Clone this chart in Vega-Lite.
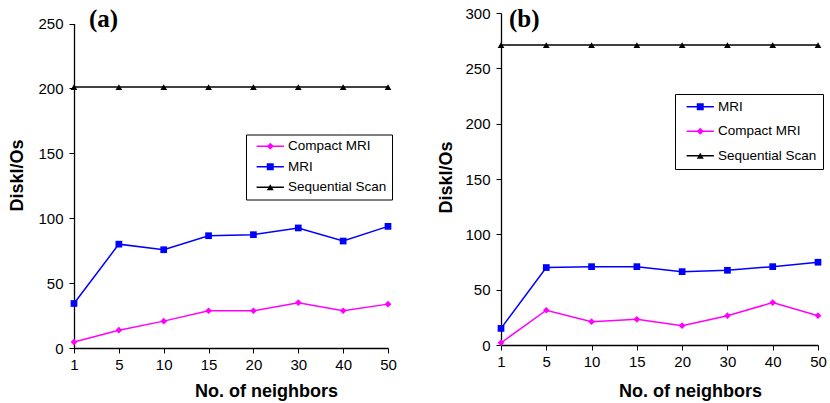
{
  "$schema": "https://vega.github.io/schema/vega-lite/v6.json",
  "background": "white",
  "padding": {"left": 8, "top": 6, "right": 4, "bottom": 4},
  "spacing": 40,
  "config": {
    "view": {"stroke": null},
    "axis": {
      "domainColor": "black", "tickColor": "black", "labelColor": "black", "titleColor": "black",
      "labelFont": "Liberation Sans", "titleFont": "Liberation Sans",
      "labelFontSize": 15, "titleFontSize": 18, "titleFontWeight": "bold",
      "grid": false, "tickSize": 5, "domainWidth": 1.3, "tickWidth": 1
    },
    "legend": {
      "labelFont": "Liberation Sans", "labelFontSize": 13.5, "labelColor": "black",
      "symbolSize": 49, "symbolStrokeWidth": 1.5, "labelLimit": 0, "title": null, "orient": "none"
    }
  },
  "resolve": {"scale": {"color": "independent", "fill": "independent", "shape": "independent", "y": "independent", "x": "independent"}, "legend": {"color": "independent", "fill": "independent", "shape": "independent"}},
  "datasets": {
    "a": [
      {"k": 1, "v": 4.6, "s": "Compact MRI"}, {"k": 5, "v": 13.7, "s": "Compact MRI"}, {"k": 10, "v": 20.7, "s": "Compact MRI"}, {"k": 15, "v": 28.7, "s": "Compact MRI"},
      {"k": 20, "v": 28.7, "s": "Compact MRI"}, {"k": 30, "v": 34.9, "s": "Compact MRI"}, {"k": 40, "v": 28.7, "s": "Compact MRI"}, {"k": 50, "v": 33.8, "s": "Compact MRI"},
      {"k": 1, "v": 34.3, "s": "MRI"}, {"k": 5, "v": 80, "s": "MRI"}, {"k": 10, "v": 75.7, "s": "MRI"}, {"k": 15, "v": 86.5, "s": "MRI"},
      {"k": 20, "v": 87.3, "s": "MRI"}, {"k": 30, "v": 92.5, "s": "MRI"}, {"k": 40, "v": 82.4, "s": "MRI"}, {"k": 50, "v": 93.7, "s": "MRI"},
      {"k": 1, "v": 201, "s": "Sequential Scan"}, {"k": 5, "v": 201, "s": "Sequential Scan"}, {"k": 10, "v": 201, "s": "Sequential Scan"}, {"k": 15, "v": 201, "s": "Sequential Scan"},
      {"k": 20, "v": 201, "s": "Sequential Scan"}, {"k": 30, "v": 201, "s": "Sequential Scan"}, {"k": 40, "v": 201, "s": "Sequential Scan"}, {"k": 50, "v": 201, "s": "Sequential Scan"}
    ],
    "b": [
      {"k": 1, "v": 15, "s": "MRI"}, {"k": 5, "v": 70, "s": "MRI"}, {"k": 10, "v": 70.8, "s": "MRI"}, {"k": 15, "v": 70.8, "s": "MRI"},
      {"k": 20, "v": 66.3, "s": "MRI"}, {"k": 30, "v": 67.5, "s": "MRI"}, {"k": 40, "v": 70.8, "s": "MRI"}, {"k": 50, "v": 74.8, "s": "MRI"},
      {"k": 1, "v": 2, "s": "Compact MRI"}, {"k": 5, "v": 31.4, "s": "Compact MRI"}, {"k": 10, "v": 21.1, "s": "Compact MRI"}, {"k": 15, "v": 23.2, "s": "Compact MRI"},
      {"k": 20, "v": 17.5, "s": "Compact MRI"}, {"k": 30, "v": 26.5, "s": "Compact MRI"}, {"k": 40, "v": 38.3, "s": "Compact MRI"}, {"k": 50, "v": 26.5, "s": "Compact MRI"},
      {"k": 1, "v": 271, "s": "Sequential Scan"}, {"k": 5, "v": 271, "s": "Sequential Scan"}, {"k": 10, "v": 271, "s": "Sequential Scan"}, {"k": 15, "v": 271, "s": "Sequential Scan"},
      {"k": 20, "v": 271, "s": "Sequential Scan"}, {"k": 30, "v": 271, "s": "Sequential Scan"}, {"k": 40, "v": 271, "s": "Sequential Scan"}, {"k": 50, "v": 271, "s": "Sequential Scan"}
    ]
  },
  "hconcat": [
    {
      "width": 314,
      "height": 335,
      "layer": [
        {
          "data": {"name": "a"},
          "mark": {"type": "line", "strokeWidth": 1.5},
          "encoding": {
            "x": {"field": "k", "type": "ordinal", "scale": {"type": "point", "padding": 0, "domain": [1, 5, 10, 15, 20, 30, 40, 50]},
                  "axis": {"labelAngle": 0, "title": "No. of neighbors", "labelPadding": 4, "titleX": 192, "titleY": 48, "titleBaseline": "alphabetic"}},
            "y": {"field": "v", "type": "quantitative", "scale": {"domain": [0, 250], "range": [335, 10.5], "nice": false},
                  "axis": {"values": [0, 50, 100, 150, 200, 250], "title": "DiskI/Os", "labelPadding": 6, "titleX": -57, "titleY": 162, "titleBaseline": "middle", "titleAlign": "center"}},
            "color": {"field": "s", "type": "nominal", "sort": ["Compact MRI", "MRI", "Sequential Scan"], "scale": {"range": ["#ff00ff", "#0000ff", "#000000"]},
                      "legend": {"legendX": 172, "legendY": 121.5, "padding": 5, "rowPadding": 5.5, "symbolOffset": 12.5, "labelOffset": 11,
                                 "symbolType": "M-3.9,0H3.9", "strokeColor": "black", "fillColor": null}}
          }
        },
        {
          "data": {"name": "a"},
          "mark": {"type": "point", "filled": true, "size": 45, "opacity": 1},
          "encoding": {
            "x": {"field": "k", "type": "ordinal", "scale": {"type": "point", "padding": 0, "domain": [1, 5, 10, 15, 20, 30, 40, 50]},
                  "axis": {"labelAngle": 0, "title": "No. of neighbors", "labelPadding": 4, "titleX": 192, "titleY": 48, "titleBaseline": "alphabetic"}},
            "y": {"field": "v", "type": "quantitative", "scale": {"domain": [0, 250], "range": [335, 10.5], "nice": false},
                  "axis": {"values": [0, 50, 100, 150, 200, 250], "title": "DiskI/Os", "labelPadding": 6, "titleX": -57, "titleY": 162, "titleBaseline": "middle", "titleAlign": "center"}},
            "fill": {"field": "s", "type": "nominal", "scale": {"domain": ["Compact MRI", "MRI", "Sequential Scan"], "range": ["#ff00ff", "#0000ff", "#000000"]},
                     "legend": {"legendX": 172, "legendY": 121.5, "padding": 5, "rowPadding": 5.5, "symbolOffset": 12.5, "labelOffset": 11, "labelOpacity": 0}},
            "shape": {"field": "s", "type": "nominal", "scale": {"domain": ["Compact MRI", "MRI", "Sequential Scan"], "range": ["diamond", "square", "triangle-up"]},
                      "legend": {"legendX": 172, "legendY": 121.5, "padding": 5, "rowPadding": 5.5, "symbolOffset": 12.5, "labelOffset": 11, "labelOpacity": 0}}
          }
        },
        {
          "data": {"values": [{"t": "(a)"}]},
          "mark": {"type": "text", "font": "Liberation Serif", "fontSize": 25, "fontWeight": "bold", "color": "black", "align": "left", "baseline": "alphabetic", "dx": 15, "dy": 3.5},
          "encoding": {
            "x": {"datum": 1, "type": "ordinal", "scale": {"type": "point", "padding": 0, "domain": [1, 5, 10, 15, 20, 30, 40, 50]},
                  "axis": {"labelAngle": 0, "title": "No. of neighbors", "labelPadding": 4, "titleX": 192, "titleY": 48, "titleBaseline": "alphabetic"}},
            "y": {"datum": 250, "type": "quantitative", "scale": {"domain": [0, 250], "range": [335, 10.5], "nice": false},
                  "axis": {"values": [0, 50, 100, 150, 200, 250], "title": "DiskI/Os", "labelPadding": 6, "titleX": -57, "titleY": 162, "titleBaseline": "middle", "titleAlign": "center"}},
            "text": {"field": "t"}
          }
        }
      ]
    },
    {
      "width": 317,
      "height": 332,
      "layer": [
        {
          "data": {"name": "b"},
          "mark": {"type": "line", "strokeWidth": 1.5},
          "encoding": {
            "x": {"field": "k", "type": "ordinal", "scale": {"type": "point", "padding": 0, "domain": [1, 5, 10, 15, 20, 30, 40, 50]},
                  "axis": {"labelAngle": 0, "title": "No. of neighbors", "labelPadding": 4, "titleX": 189, "titleY": 51, "titleBaseline": "alphabetic"}},
            "y": {"field": "v", "type": "quantitative", "scale": {"domain": [0, 300], "nice": false},
                  "axis": {"values": [0, 50, 100, 150, 200, 250, 300], "title": "DiskI/Os", "labelPadding": 6, "titleX": -55, "titleY": 164, "titleBaseline": "middle", "titleAlign": "center"}},
            "color": {"field": "s", "type": "nominal", "sort": ["MRI", "Compact MRI", "Sequential Scan"], "scale": {"range": ["#0000ff", "#ff00ff", "#000000"]},
                      "legend": {"legendX": 174, "legendY": 81, "padding": 6, "rowPadding": 9.5, "symbolOffset": 12.5, "labelOffset": 11,
                                 "symbolType": "M-3.9,0H3.9", "strokeColor": "black", "fillColor": null}}
          }
        },
        {
          "data": {"name": "b"},
          "mark": {"type": "point", "filled": true, "size": 45, "opacity": 1},
          "encoding": {
            "x": {"field": "k", "type": "ordinal", "scale": {"type": "point", "padding": 0, "domain": [1, 5, 10, 15, 20, 30, 40, 50]},
                  "axis": {"labelAngle": 0, "title": "No. of neighbors", "labelPadding": 4, "titleX": 189, "titleY": 51, "titleBaseline": "alphabetic"}},
            "y": {"field": "v", "type": "quantitative", "scale": {"domain": [0, 300], "nice": false},
                  "axis": {"values": [0, 50, 100, 150, 200, 250, 300], "title": "DiskI/Os", "labelPadding": 6, "titleX": -55, "titleY": 164, "titleBaseline": "middle", "titleAlign": "center"}},
            "fill": {"field": "s", "type": "nominal", "scale": {"domain": ["MRI", "Compact MRI", "Sequential Scan"], "range": ["#0000ff", "#ff00ff", "#000000"]},
                     "legend": {"legendX": 174, "legendY": 81, "padding": 6, "rowPadding": 9.5, "symbolOffset": 12.5, "labelOffset": 11, "labelOpacity": 0}},
            "shape": {"field": "s", "type": "nominal", "scale": {"domain": ["MRI", "Compact MRI", "Sequential Scan"], "range": ["square", "diamond", "triangle-up"]},
                      "legend": {"legendX": 174, "legendY": 81, "padding": 6, "rowPadding": 9.5, "symbolOffset": 12.5, "labelOffset": 11, "labelOpacity": 0}}
          }
        },
        {
          "data": {"values": [{"t": "(b)"}]},
          "mark": {"type": "text", "font": "Liberation Serif", "fontSize": 25, "fontWeight": "bold", "color": "black", "align": "left", "baseline": "alphabetic", "dx": 8, "dy": 14},
          "encoding": {
            "x": {"datum": 1, "type": "ordinal", "scale": {"type": "point", "padding": 0, "domain": [1, 5, 10, 15, 20, 30, 40, 50]},
                  "axis": {"labelAngle": 0, "title": "No. of neighbors", "labelPadding": 4, "titleX": 189, "titleY": 51, "titleBaseline": "alphabetic"}},
            "y": {"datum": 300, "type": "quantitative", "scale": {"domain": [0, 300], "nice": false},
                  "axis": {"values": [0, 50, 100, 150, 200, 250, 300], "title": "DiskI/Os", "labelPadding": 6, "titleX": -55, "titleY": 164, "titleBaseline": "middle", "titleAlign": "center"}},
            "text": {"field": "t"}
          }
        }
      ]
    }
  ]
}
